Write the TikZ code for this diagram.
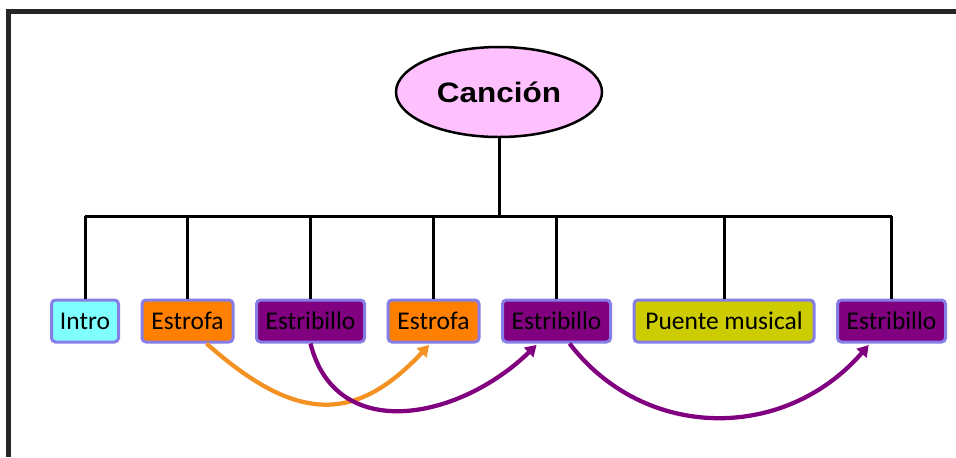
\documentclass[tikz,border=0pt]{standalone}
\usepackage{fontspec}
\setmainfont{Carlito}
\newfontfamily\titulofont[FakeStretch=1.12]{Liberation Sans}
\usepackage{tikz}
\usetikzlibrary{positioning,shapes.geometric,arrows.meta}

\definecolor{rosa}{RGB}{255,192,255}
\definecolor{celeste}{RGB}{128,255,255}
\definecolor{naranja}{RGB}{255,128,0}
\definecolor{morado}{RGB}{128,0,128}
\definecolor{oliva}{RGB}{204,204,0}
\definecolor{borde}{RGB}{135,125,230}
\definecolor{flechanaranja}{RGB}{243,146,35}

\begin{document}
\begin{tikzpicture}[partenode/.style={rectangle, rounded corners=0.08cm, draw=borde, line width=0.06cm, minimum height=0.84cm, inner sep=0pt, font=\fontsize{14.5}{16}\selectfont},
    rama/.style={line width=0.06cm},
    salto/.style={line width=0.085cm, -{Triangle[length=0.22cm,width=0.26cm]}, shorten >=0.04cm}]

        \useasboundingbox (0,0) rectangle (19.12,-9.14);
        \draw[line width=0.1cm, black!85] (19.12,-0.23) -- (0.18,-0.23) -- (0.18,-9.14);

        \node[ellipse, draw, line width=0.05cm, fill=rosa, minimum width=4.12cm, minimum height=1.8cm, inner sep=0pt] (cancion) at (9.98,-1.84) {\titulofont\fontsize{16}{18}\selectfont\bfseries Canción};

        \node[partenode, fill=celeste, minimum width=1.34cm] (intro) at (1.7,-6.42) {Intro};
        \node[partenode, fill=naranja, minimum width=1.82cm] (estrofaA) [right=0.41cm of intro] {Estrofa};
        \node[partenode, fill=morado, minimum width=2.16cm] (estribilloA) [right=0.41cm of estrofaA] {Estribillo};
        \node[partenode, fill=naranja, minimum width=1.82cm] (estrofaB) [right=0.41cm of estribilloA] {Estrofa};
        \node[partenode, fill=morado, minimum width=2.16cm] (estribilloB) [right=0.41cm of estrofaB] {Estribillo};
        \node[partenode, fill=oliva, minimum width=3.6cm] (puente) [right=0.41cm of estribilloB] {Puente musical};
        \node[partenode, fill=morado, minimum width=2.16cm] (estribilloC) [right=0.41cm of puente] {Estribillo};

        \coordinate (barra) at (9.98,-4.32);
        \draw[rama] (cancion.south) -- (barra);
        \draw[rama] (intro.north |- barra) -- (estribilloC.north |- barra);
        \foreach \n in {intro,estrofaA,estribilloA,estrofaB,estribilloB,puente,estribilloC}
            \draw[rama] (\n.north |- barra) -- (\n.north);

        \draw[salto, flechanaranja] ([xshift=0.38cm]estrofaA.south) .. controls +(1.8,-1.6) and +(-1.5,-1.6) .. ([xshift=-0.06cm]estrofaB.south);
        \draw[salto, morado] (estribilloA.south) .. controls +(0.5,-2.0) and +(-1.6,-1.55) .. ([xshift=-0.37cm]estribilloB.south);
        \draw[salto, morado] ([xshift=0.26cm]estribilloB.south) .. controls +(1.5,-1.96) and +(-1.7,-1.96) .. ([xshift=-0.43cm]estribilloC.south);

\end{tikzpicture}
\end{document}
